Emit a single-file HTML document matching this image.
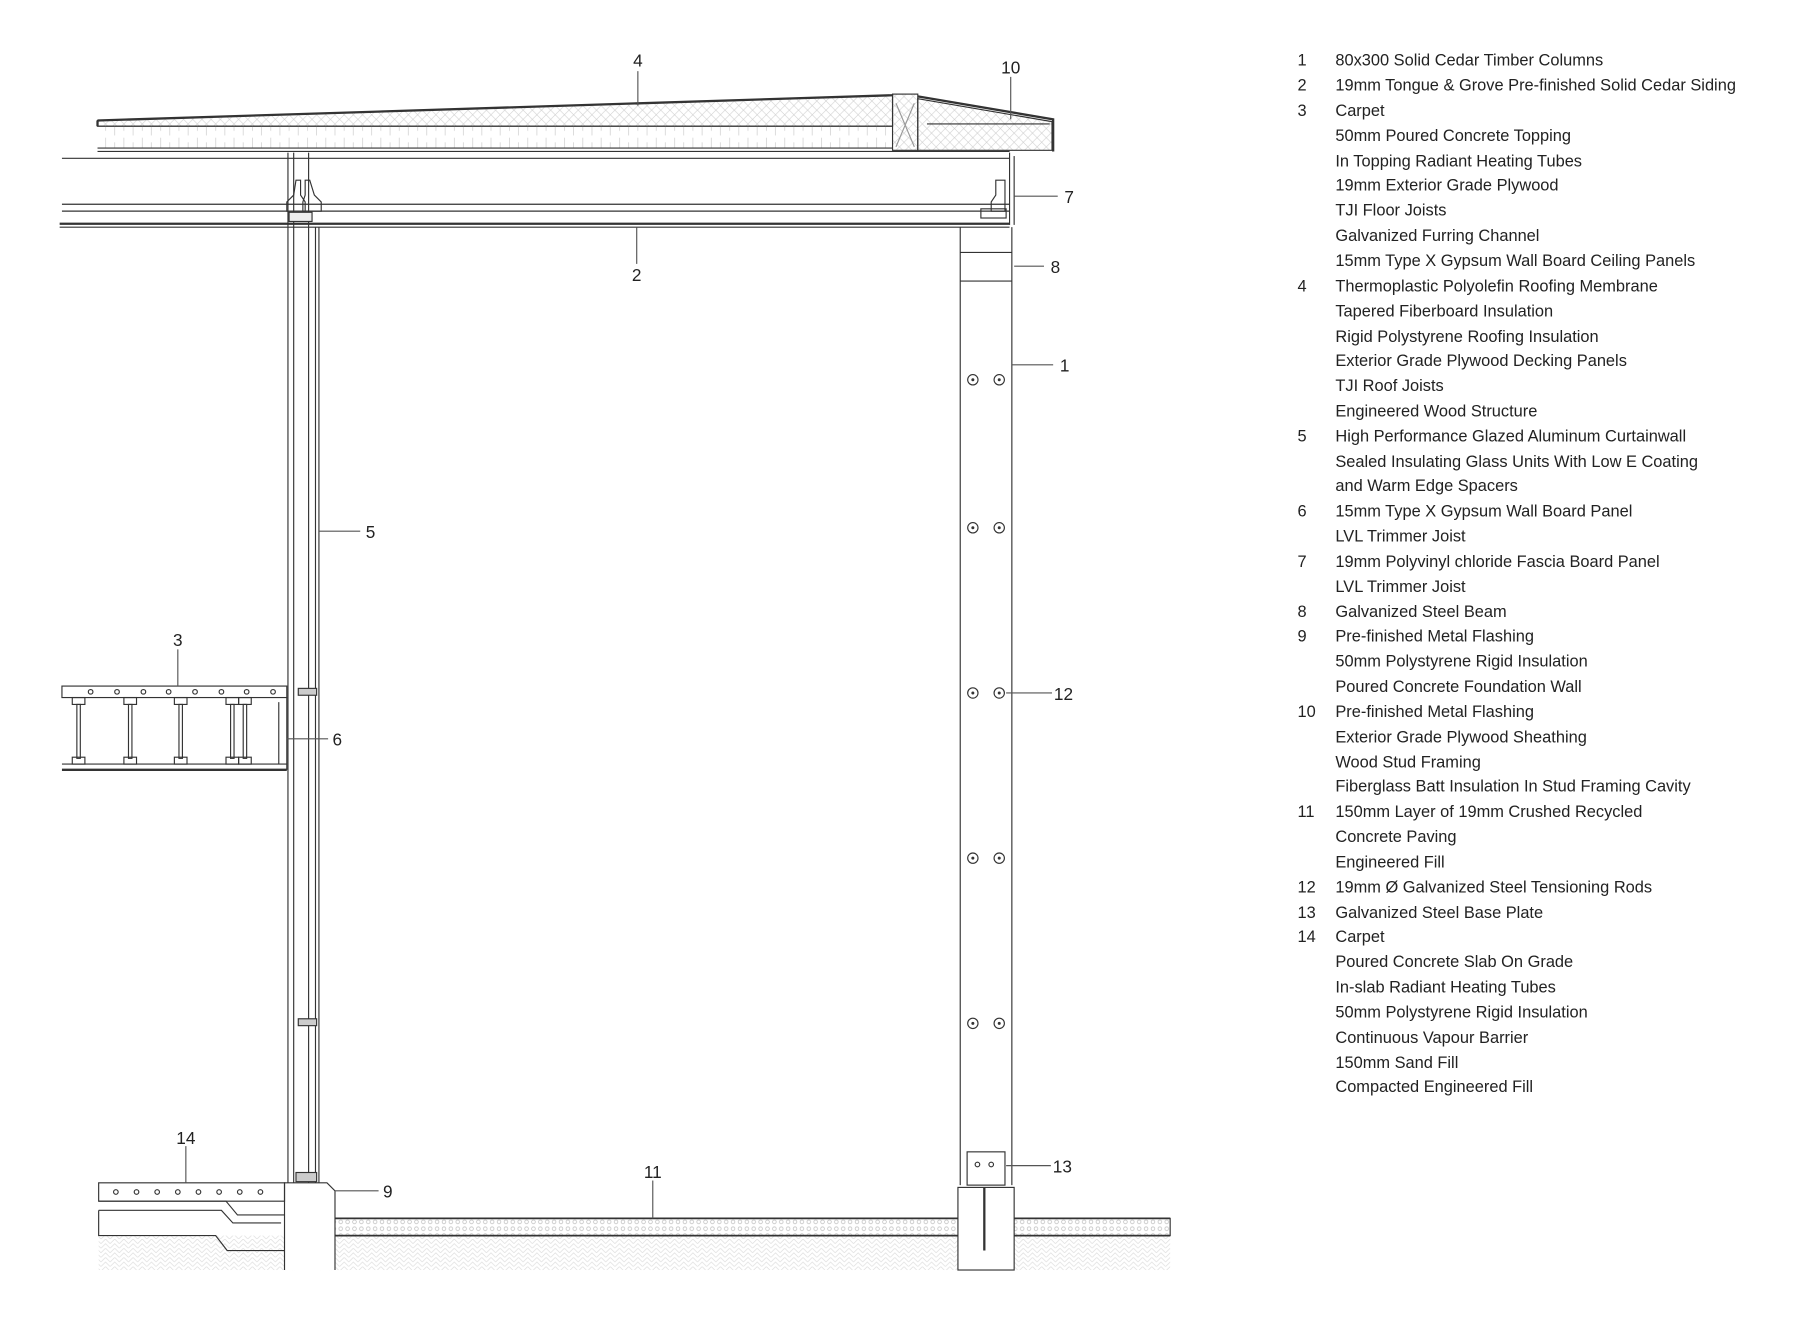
<!DOCTYPE html>
<html><head><meta charset="utf-8"><style>
html,body{margin:0;padding:0;background:#fff;}
svg{display:block;}
text{font-family:"Liberation Sans",sans-serif;fill:#222;}
</style></head><body>
<svg width="1800" height="1332" viewBox="0 0 1569 1161" xmlns="http://www.w3.org/2000/svg">
<defs>
<pattern id="xh" width="8" height="8" patternUnits="userSpaceOnUse"><path d="M0 0L8 8M8 0L0 8" stroke="#ccc" stroke-width="0.5"/></pattern>
<pattern id="vs" width="16" height="20" patternUnits="userSpaceOnUse"><path d="M4 4V18M12 0V14" stroke="#ccc" stroke-width="0.6"/></pattern>
<pattern id="soil" width="8" height="8" patternUnits="userSpaceOnUse"><path d="M0 4L4 0L8 4M0 8L4 4L8 8" stroke="#ddd" stroke-width="0.6" fill="none"/></pattern>
<pattern id="grav" width="6" height="6" patternUnits="userSpaceOnUse"><circle cx="3" cy="3" r="1.6" stroke="#bbb" stroke-width="0.6" fill="none"/></pattern>
</defs>
<g stroke="#333" stroke-width="1" fill="none">
<!-- roof -->
<path d="M85 105 L778 83 L778 110 L85 110 Z" fill="url(#xh)"/>
<rect x="85" y="110" width="693" height="19" fill="url(#vs)" stroke="none"/>
<path d="M85 105 L778 83" stroke-width="2"/>
<line x1="85" y1="105" x2="85" y2="110" stroke-width="2"/>
<line x1="85" y1="110" x2="778" y2="110"/>
<line x1="85" y1="129" x2="778" y2="129"/>
<line x1="85" y1="132" x2="880" y2="132"/>
<rect x="778" y="82" width="22" height="49" fill="url(#xh)"/>
<path d="M781 90 L797 128 M797 90 L781 128" stroke="#999"/>
<path d="M800 86 L917 106 L917 131 L800 131 Z" fill="url(#xh)"/>
<path d="M800 84 L918 104 L918 132" stroke-width="2"/>
<line x1="808" y1="108" x2="915" y2="108"/>
<!-- ceiling beams -->
<line x1="54" y1="138" x2="880" y2="138"/>
<line x1="54" y1="178" x2="880" y2="178"/>
<line x1="54" y1="184" x2="880" y2="184"/>
<line x1="52" y1="195" x2="880" y2="195" stroke-width="2"/>
<line x1="52" y1="198" x2="880" y2="198"/>
<line x1="880" y1="133" x2="880" y2="196"/>
<line x1="884" y1="136" x2="884" y2="196"/>
<rect x="855" y="182" width="22" height="8"/>
<!-- hangers -->
<path d="M258 157 L262 157 L262 170 L266 176 L266 184 L250 184 L250 176 L256 170 Z"/>
<path d="M274 157 L270 157 L270 170 L268 176 L268 184 L284 184 L284 176 L278 170 Z" transform="translate(-4 0)"/>
<path d="M872 157 L868 157 L868 170 L864 176 L864 184 L876 184 L876 157 Z"/>
<!-- left column / curtainwall -->
<line x1="251" y1="133" x2="251" y2="1032"/>
<line x1="256" y1="133" x2="256" y2="1032"/>
<line x1="269" y1="133" x2="269" y2="1032"/>
<line x1="275" y1="198" x2="275" y2="1032"/>
<line x1="278" y1="198" x2="278" y2="1032"/>
<rect x="252" y="185" width="20" height="8" fill="#eee"/>
<rect x="260" y="600" width="16" height="6" fill="#ccc"/>
<rect x="260" y="888" width="16" height="6" fill="#ccc"/>
<rect x="258" y="1022" width="18" height="8" fill="#ccc"/>
<!-- right column -->
<line x1="837" y1="198" x2="837" y2="1033"/>
<line x1="882" y1="198" x2="882" y2="1033"/>
<line x1="837" y1="220" x2="882" y2="220"/>
<line x1="837" y1="245" x2="882" y2="245"/>
<g>
<circle cx="848" cy="331" r="4.5"/><circle cx="871" cy="331" r="4.5"/>
<circle cx="848" cy="460" r="4.5"/><circle cx="871" cy="460" r="4.5"/>
<circle cx="848" cy="604" r="4.5"/><circle cx="871" cy="604" r="4.5"/>
<circle cx="848" cy="748" r="4.5"/><circle cx="871" cy="748" r="4.5"/>
<circle cx="848" cy="892" r="4.5"/><circle cx="871" cy="892" r="4.5"/>
</g>
<g fill="#333" stroke="none">
<circle cx="848" cy="331" r="1.3"/><circle cx="871" cy="331" r="1.3"/>
<circle cx="848" cy="460" r="1.3"/><circle cx="871" cy="460" r="1.3"/>
<circle cx="848" cy="604" r="1.3"/><circle cx="871" cy="604" r="1.3"/>
<circle cx="848" cy="748" r="1.3"/><circle cx="871" cy="748" r="1.3"/>
<circle cx="848" cy="892" r="1.3"/><circle cx="871" cy="892" r="1.3"/>
</g>
<rect x="843" y="1004" width="33" height="29"/>
<circle cx="852" cy="1015" r="2"/><circle cx="864" cy="1015" r="2"/>
<!-- ground -->
<rect x="86" y="1077" width="934" height="30" fill="url(#soil)" stroke="none"/>
<rect x="290" y="1062" width="730" height="15" fill="url(#grav)"/>
<line x1="290" y1="1062" x2="1020" y2="1062" stroke-width="1.5"/>
<line x1="290" y1="1077" x2="1020" y2="1077" stroke-width="1.5"/>
<rect x="835" y="1035" width="49" height="72" fill="#fff"/>
<line x1="858" y1="1035" x2="858" y2="1090" stroke-width="2"/>
<path d="M248 1107 L248 1031 L285 1031 L292 1038 L292 1107" fill="#fff"/>
<!-- slab 14 -->
<rect x="86" y="1031" width="162" height="16"/>
<path d="M86 1047 L197 1047 L207 1059 L248 1059"/>
<path d="M86 1055 L193 1055 L203 1066 L245 1066"/>
<path d="M86 1055 L86 1077 L188 1077 L198 1090 L248 1090"/>
<g>
<circle cx="101" cy="1039" r="2"/><circle cx="119" cy="1039" r="2"/><circle cx="137" cy="1039" r="2"/><circle cx="155" cy="1039" r="2"/><circle cx="173" cy="1039" r="2"/><circle cx="191" cy="1039" r="2"/><circle cx="209" cy="1039" r="2"/><circle cx="227" cy="1039" r="2"/>
</g>
<!-- floor 3 -->
<rect x="54" y="598" width="196" height="10"/>
<line x1="54" y1="666" x2="250" y2="666"/>
<line x1="54" y1="671" x2="250" y2="671" stroke-width="2"/>
<line x1="250" y1="608" x2="250" y2="671"/>
<line x1="243" y1="612" x2="243" y2="666"/>
<g>
<circle cx="79" cy="603" r="2"/><circle cx="102" cy="603" r="2"/><circle cx="125" cy="603" r="2"/><circle cx="147" cy="603" r="2"/><circle cx="170" cy="603" r="2"/><circle cx="193" cy="603" r="2"/><circle cx="215" cy="603" r="2"/><circle cx="238" cy="603" r="2"/>
</g>
<g stroke-width="1">
<rect x="63" y="608" width="11" height="6"/><rect x="67" y="614" width="3" height="47"/><rect x="63" y="660" width="11" height="6"/>
<rect x="108" y="608" width="11" height="6"/><rect x="112" y="614" width="3" height="47"/><rect x="108" y="660" width="11" height="6"/>
<rect x="152" y="608" width="11" height="6"/><rect x="156" y="614" width="3" height="47"/><rect x="152" y="660" width="11" height="6"/>
<rect x="197" y="608" width="11" height="6"/><rect x="201" y="614" width="3" height="47"/><rect x="197" y="660" width="11" height="6"/>
<rect x="208" y="608" width="11" height="6"/><rect x="212" y="614" width="3" height="47"/><rect x="208" y="660" width="11" height="6"/>
</g>
<!-- leaders -->
<g stroke="#555">
<line x1="556" y1="62" x2="556" y2="92"/>
<line x1="881" y1="67" x2="881" y2="104"/>
<line x1="884" y1="171" x2="922" y2="171"/>
<line x1="884" y1="232" x2="910" y2="232"/>
<line x1="882" y1="318" x2="918" y2="318"/>
<line x1="555" y1="198" x2="555" y2="230"/>
<line x1="278" y1="463" x2="314" y2="463"/>
<line x1="155" y1="566" x2="155" y2="598"/>
<line x1="250" y1="644" x2="286" y2="644"/>
<line x1="877" y1="604" x2="917" y2="604"/>
<line x1="162" y1="999" x2="162" y2="1031"/>
<line x1="292" y1="1038" x2="330" y2="1038"/>
<line x1="569" y1="1029" x2="569" y2="1062"/>
<line x1="877" y1="1016" x2="916" y2="1016"/>
</g>
</g>
<g font-size="15" text-anchor="middle">
<text x="556" y="58">4</text><text x="881" y="64">10</text>
<text x="932" y="177">7</text><text x="920" y="238">8</text>
<text x="928" y="324">1</text><text x="555" y="245">2</text>
<text x="323" y="469">5</text><text x="155" y="563">3</text>
<text x="294" y="650">6</text><text x="927" y="610">12</text>
<text x="162" y="997">14</text><text x="338" y="1044">9</text>
<text x="569" y="1027">11</text><text x="926" y="1022">13</text>
</g>
<g font-size="14.3">
<text x="1131" y="57">1</text><text x="1164" y="57">80x300 Solid Cedar Timber Columns</text>
<text x="1131" y="79">2</text><text x="1164" y="79">19mm Tongue &amp; Grove Pre-finished Solid Cedar Siding</text>
<text x="1131" y="101">3</text><text x="1164" y="101">Carpet</text>
<text x="1164" y="123">50mm Poured Concrete Topping</text>
<text x="1164" y="145">In Topping Radiant Heating Tubes</text>
<text x="1164" y="166">19mm Exterior Grade Plywood</text>
<text x="1164" y="188">TJI Floor Joists</text>
<text x="1164" y="210">Galvanized Furring Channel</text>
<text x="1164" y="232">15mm Type X Gypsum Wall Board Ceiling Panels</text>
<text x="1131" y="254">4</text><text x="1164" y="254">Thermoplastic Polyolefin Roofing Membrane</text>
<text x="1164" y="276">Tapered Fiberboard Insulation</text>
<text x="1164" y="298">Rigid Polystyrene Roofing Insulation</text>
<text x="1164" y="319">Exterior Grade Plywood Decking Panels</text>
<text x="1164" y="341">TJI Roof Joists</text>
<text x="1164" y="363">Engineered Wood Structure</text>
<text x="1131" y="385">5</text><text x="1164" y="385">High Performance Glazed Aluminum Curtainwall</text>
<text x="1164" y="407">Sealed Insulating Glass Units With Low E Coating</text>
<text x="1164" y="428">and Warm Edge Spacers</text>
<text x="1131" y="450">6</text><text x="1164" y="450">15mm Type X Gypsum Wall Board Panel</text>
<text x="1164" y="472">LVL Trimmer Joist</text>
<text x="1131" y="494">7</text><text x="1164" y="494">19mm Polyvinyl chloride Fascia Board Panel</text>
<text x="1164" y="516">LVL Trimmer Joist</text>
<text x="1131" y="538">8</text><text x="1164" y="538">Galvanized Steel Beam</text>
<text x="1131" y="559">9</text><text x="1164" y="559">Pre-finished Metal Flashing</text>
<text x="1164" y="581">50mm Polystyrene Rigid Insulation</text>
<text x="1164" y="603">Poured Concrete Foundation Wall</text>
<text x="1131" y="625">10</text><text x="1164" y="625">Pre-finished Metal Flashing</text>
<text x="1164" y="647">Exterior Grade Plywood Sheathing</text>
<text x="1164" y="669">Wood Stud Framing</text>
<text x="1164" y="690">Fiberglass Batt Insulation In Stud Framing Cavity</text>
<text x="1131" y="712">11</text><text x="1164" y="712">150mm Layer of 19mm Crushed Recycled</text>
<text x="1164" y="734">Concrete Paving</text>
<text x="1164" y="756">Engineered Fill</text>
<text x="1131" y="778">12</text><text x="1164" y="778">19mm Ø Galvanized Steel Tensioning Rods</text>
<text x="1131" y="800">13</text><text x="1164" y="800">Galvanized Steel Base Plate</text>
<text x="1131" y="821">14</text><text x="1164" y="821">Carpet</text>
<text x="1164" y="843">Poured Concrete Slab On Grade</text>
<text x="1164" y="865">In-slab Radiant Heating Tubes</text>
<text x="1164" y="887">50mm Polystyrene Rigid Insulation</text>
<text x="1164" y="909">Continuous Vapour Barrier</text>
<text x="1164" y="931">150mm Sand Fill</text>
<text x="1164" y="952">Compacted Engineered Fill</text>
</g>
</svg>
</body></html>
